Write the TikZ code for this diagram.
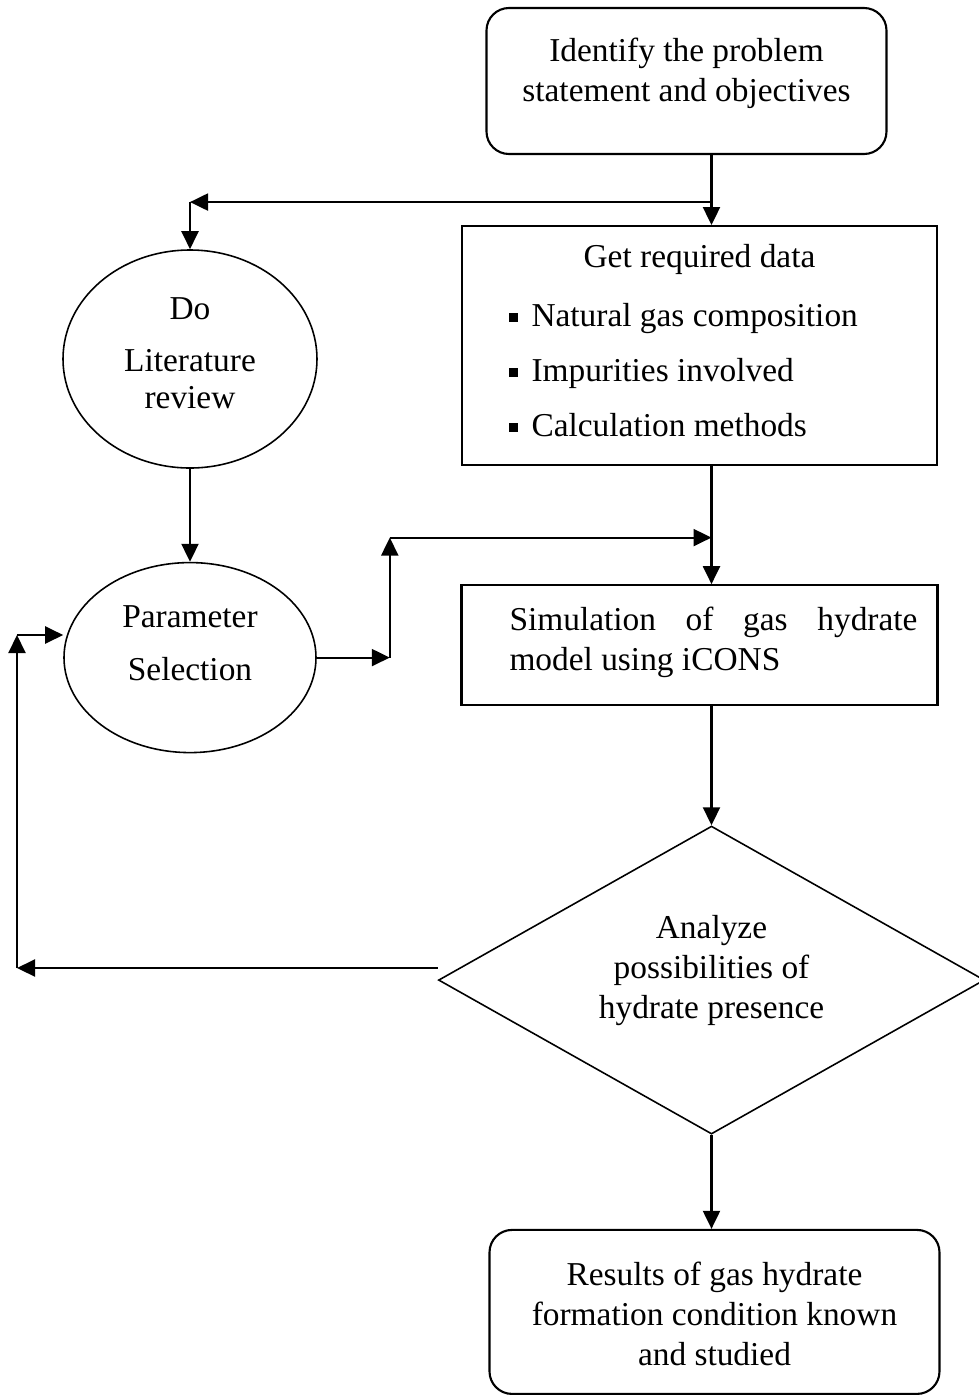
\documentclass[tikz,border=0pt]{standalone}
\usepackage{fontspec}
\setmainfont{Liberation Serif}
\usetikzlibrary{shapes.geometric, arrows.meta, positioning, calc}

% text block of fixed size, first line near the top
\newcommand{\boxtext}[4]{\parbox[c][#1][t]{#2}{\vspace*{#3}#4}}
\newcommand{\dataitem}[1]{\makebox[9.5cm][l]{\hspace*{0.94cm}\rule[0.09cm]{0.17cm}{0.17cm}\hspace{0.28cm}#1}}

\begin{document}
\begin{tikzpicture}[>={Triangle[length=0.36cm,width=0.34cm]}, line width=1.2pt,
  every node/.style={font=\fontsize{19}{22.8}\selectfont, inner sep=0pt},
  roundbox/.style={rectangle, rounded corners=0.45cm, draw},
  plainbox/.style={rectangle, draw},
  oval/.style={ellipse, draw, line width=0.9pt, minimum width=#1},
  oval/.default=5.08cm,
  decision/.style={diamond, draw, line width=0.9pt, aspect=1.77, minimum width=10.92cm, minimum height=6.16cm}]
  \useasboundingbox (0,0) rectangle (19.58,-27.9);
  \node[roundbox] (ident) at (13.73,-1.62) {\boxtext{2.92cm}{8cm}{0.6cm}{\centering Identify the problem\\statement and objectives}};
  \node[plainbox, below=1.40cm of ident, xshift=0.26cm] (data) {\boxtext{4.78cm}{9.5cm}{0.36cm}{\centering Get required data\\[0.38cm]
    \dataitem{Natural gas composition}\\[0.3cm]
    \dataitem{Impurities involved}\\[0.3cm]
    \dataitem{Calculation methods}}};
  \node[oval, minimum height=4.36cm] (lit) at (3.8,-7.18) {\boxtext{3cm}{3.4cm}{0.28cm}{\centering Do\\[0.24cm]Literature\\[-0.08cm]review}};
  \node[oval=5.04cm, minimum height=3.8cm, below=1.86cm of lit] (param) {\boxtext{2.6cm}{3.4cm}{0.26cm}{\centering Parameter\\[0.26cm]Selection}};
  \node[plainbox, below=2.36cm of data] (sim) {\boxtext{2.4cm}{9.52cm}{0.44cm}{\hspace*{0.96cm}\parbox[t]{8.16cm}{Simulation\hfill of\hfill gas\hfill hydrate\\model using iCONS}}};
  \node[decision, below=2.38cm of sim, xshift=0.24cm] (dia) {\parbox[c][2.6cm][t]{4.8cm}{\centering Analyze\\possibilities of\\hydrate presence}};
  \node[roundbox, below=1.88cm of dia, xshift=0.06cm] (res) {\boxtext{3.28cm}{9cm}{0.64cm}{\centering Results of gas hydrate\\formation condition known\\and studied}};
  % branch to the literature review
  \coordinate (split) at ($(ident.south -| dia.north)+(0,-0.94)$);
  \coordinate (litin) at (lit.north |- split);
  \draw[->] (ident.south -| dia.north) -- (data.north -| dia.north);
  \draw[->] (split) -- (litin);
  \draw[->] (litin) -- (lit.north);
  \draw[->] (lit) -- (param);
  % parameters into the simulation
  \coordinate (jog) at ($(param.east)+(1.46,0)$);
  \coordinate (jogtop) at ($(jog)+(0,2.4)$);
  \draw[->] (param.east) -- (jog);
  \draw[->] (jog) -- (jogtop);
  \draw[->] (jogtop) -- (jogtop -| dia.north);
  \draw[->] (data.south -| dia.north) -- (sim.north -| dia.north);
  \draw[->] (sim.south -| dia.north) -- (dia.north);
  % feedback loop
  \coordinate (fbbot) at (0.34,-19.36);
  \coordinate (fbtop) at (0.34,-12.7);
  \draw[->] (dia.west |- fbbot) -- (fbbot);
  \draw[->] (fbbot) -- (fbtop);
  \draw[->] (fbtop) -- (param.west |- fbtop);
  \draw[->] (dia.south) -- (res.north -| dia.south);
\end{tikzpicture}
\end{document}
